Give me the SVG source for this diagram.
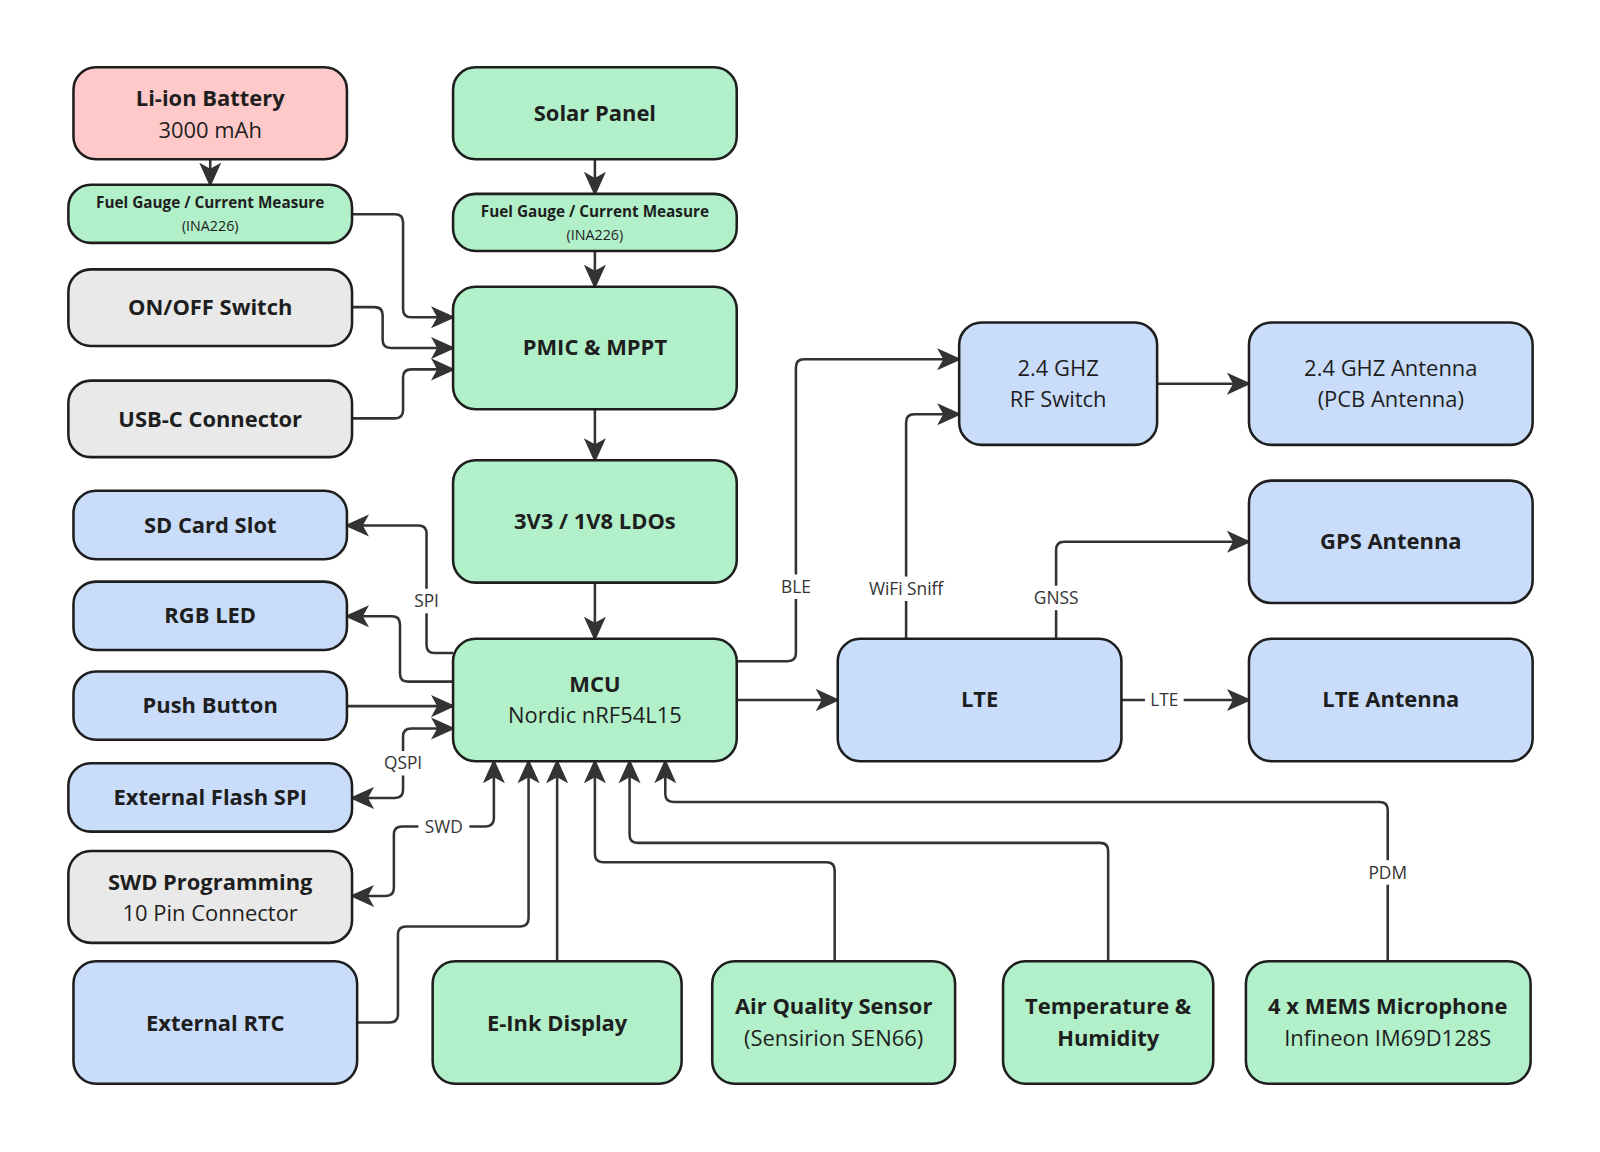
<svg xmlns="http://www.w3.org/2000/svg" width="1600" height="1152" viewBox="0 0 1600 1152">
<defs>
<marker id="ah" markerUnits="userSpaceOnUse" markerWidth="24" markerHeight="24" viewBox="0 0 20 20" refX="18" refY="10" orient="auto-start-reverse"><path d="M0,1 L20,10 L0,19 L5,10 Z" fill="#333"/></marker>
<style>
.n{stroke:#1e1e1e;stroke-width:2.5}
.r{fill:#ffc9c9}.g{fill:#b1f0c9}.y{fill:#e9e9e9}.b{fill:#c9ddfb}
text{font-family:"Open Sans","Noto Sans","Liberation Sans",sans-serif;fill:#1e1e1e;text-anchor:middle}
.t{font-size:21.5px;font-weight:700}
.s{font-size:21.5px}
.st{font-size:15px;font-weight:700}
.ss{font-size:14px}
.c path{fill:none;stroke:#333;stroke-width:2.5;stroke-linejoin:round}
.l{font-size:17px;fill:#333}
.lb{fill:#fff}
</style>
</defs>
<rect width="1600" height="1152" fill="#fff"/>
<g transform="scale(1.0204)">
<g class="c">
<path d="M206,156 V181" marker-end="url(#ah)"/>
<path d="M583,156 V190" marker-end="url(#ah)"/>
<path d="M583,246 V281" marker-end="url(#ah)"/>
<path d="M345,210 H387 Q395,210 395,218 V303 Q395,311 403,311 H444" marker-end="url(#ah)"/>
<path d="M345,301 H367 Q375,301 375,309 V333 Q375,341 383,341 H444" marker-end="url(#ah)"/>
<path d="M345,410 H387 Q395,410 395,402 V370 Q395,362 403,362 H444" marker-end="url(#ah)"/>
<path d="M583,401 V451" marker-end="url(#ah)"/>
<path d="M583,571 V626" marker-end="url(#ah)"/>
<path d="M444,640 H426 Q418,640 418,632 V523 Q418,515 410,515 H340" marker-end="url(#ah)"/>
<path d="M444,668 H400 Q392,668 392,660 V612 Q392,604 384,604 H340" marker-end="url(#ah)"/>
<path d="M340,692 H444" marker-end="url(#ah)"/>
<path d="M444,714 H403 Q395,714 395,722 V774 Q395,782 387,782 H345" marker-start="url(#ah)" marker-end="url(#ah)"/>
<path d="M484,746 V802 Q484,810 476,810 H394 Q386,810 386,818 V870 Q386,878 378,878 H345" marker-start="url(#ah)" marker-end="url(#ah)"/>
<path d="M350,1002 H382 Q390,1002 390,994 V916 Q390,908 398,908 H510 Q518,908 518,900 V746" marker-end="url(#ah)"/>
<path d="M546,942 V746" marker-end="url(#ah)"/>
<path d="M818,942 V853 Q818,845 810,845 H591 Q583,845 583,837 V746" marker-end="url(#ah)"/>
<path d="M1086,942 V834 Q1086,826 1078,826 H625 Q617,826 617,818 V746" marker-end="url(#ah)"/>
<path d="M1360,942 V794 Q1360,786 1352,786 H660 Q652,786 652,778 V746" marker-end="url(#ah)"/>
<path d="M722,648 H772 Q780,648 780,640 V360 Q780,352 788,352 H940" marker-end="url(#ah)"/>
<path d="M722,686 H821" marker-end="url(#ah)"/>
<path d="M888,626 V414 Q888,406 896,406 H940" marker-end="url(#ah)"/>
<path d="M1035,626 V539 Q1035,531 1043,531 H1224" marker-end="url(#ah)"/>
<path d="M1099,686 H1224" marker-end="url(#ah)"/>
<path d="M1134,376 H1224" marker-end="url(#ah)"/>
<rect class="lb" x="402" y="577" width="32" height="24"/><text class="l" x="418" y="595">SPI</text>
<rect class="lb" x="372" y="736" width="46" height="24"/><text class="l" x="395" y="754">QSPI</text>
<rect class="lb" x="410" y="798" width="50" height="24"/><text class="l" x="435" y="816">SWD</text>
<rect class="lb" x="1340" y="843" width="40" height="24"/><text class="l" x="1360" y="861">PDM</text>
<rect class="lb" x="762" y="563" width="36" height="24"/><text class="l" x="780" y="581">BLE</text>
<rect class="lb" x="845" y="565" width="86" height="24"/><text class="l" x="888" y="583">WiFi Sniff</text>
<rect class="lb" x="1010" y="574" width="50" height="24"/><text class="l" x="1035" y="592">GNSS</text>
<rect class="lb" x="1122" y="674" width="38" height="24"/><text class="l" x="1141" y="692">LTE</text>
</g>
<g id="battery"><rect class="n r" x="72" y="66" width="268" height="90" rx="22"/><text class="t" x="206" y="104">Li-ion Battery</text><text class="s" x="206" y="135">3000 mAh</text></g>
<g id="fg1"><rect class="n g" x="67" y="181" width="278" height="57" rx="22"/><text class="st" x="206" y="204">Fuel Gauge / Current Measure</text><text class="ss" x="206" y="226">(INA226)</text></g>
<g id="solar"><rect class="n g" x="444" y="66" width="278" height="90" rx="22"/><text class="t" x="583" y="119">Solar Panel</text></g>
<g id="fg2"><rect class="n g" x="444" y="190" width="278" height="56" rx="22"/><text class="st" x="583" y="213">Fuel Gauge / Current Measure</text><text class="ss" x="583" y="235">(INA226)</text></g>
<g id="onoff"><rect class="n y" x="67" y="264" width="278" height="75" rx="22"/><text class="t" x="206" y="309">ON/OFF Switch</text></g>
<g id="pmic"><rect class="n g" x="444" y="281" width="278" height="120" rx="22"/><text class="t" x="583" y="348">PMIC &amp; MPPT</text></g>
<g id="usbc"><rect class="n y" x="67" y="373" width="278" height="75" rx="22"/><text class="t" x="206" y="418">USB-C Connector</text></g>
<g id="ldo"><rect class="n g" x="444" y="451" width="278" height="120" rx="22"/><text class="t" x="583" y="518">3V3 / 1V8 LDOs</text></g>
<g id="sd"><rect class="n b" x="72" y="481" width="268" height="67" rx="22"/><text class="t" x="206" y="522">SD Card Slot</text></g>
<g id="rgb"><rect class="n b" x="72" y="570" width="268" height="67" rx="22"/><text class="t" x="206" y="611">RGB LED</text></g>
<g id="push"><rect class="n b" x="72" y="658" width="268" height="67" rx="22"/><text class="t" x="206" y="699">Push Button</text></g>
<g id="flash"><rect class="n b" x="67" y="748" width="278" height="67" rx="22"/><text class="t" x="206" y="789">External Flash SPI</text></g>
<g id="swd"><rect class="n y" x="67" y="834" width="278" height="90" rx="22"/><text class="t" x="206" y="872">SWD Programming</text><text class="s" x="206" y="903">10 Pin Connector</text></g>
<g id="rtc"><rect class="n b" x="72" y="942" width="278" height="120" rx="22"/><text class="t" x="211" y="1010">External RTC</text></g>
<g id="mcu"><rect class="n g" x="444" y="626" width="278" height="120" rx="22"/><text class="t" x="583" y="678">MCU</text><text class="s" x="583" y="709">Nordic nRF54L15</text></g>
<g id="eink"><rect class="n g" x="424" y="942" width="244" height="120" rx="22"/><text class="t" x="546" y="1010">E-Ink Display</text></g>
<g id="air"><rect class="n g" x="698" y="942" width="238" height="120" rx="22"/><text class="t" x="817" y="994">Air Quality Sensor</text><text class="s" x="817" y="1025">(Sensirion SEN66)</text></g>
<g id="temp"><rect class="n g" x="983" y="942" width="206" height="120" rx="22"/><text class="t" x="1086" y="994">Temperature &amp;</text><text class="t" x="1086" y="1025">Humidity</text></g>
<g id="mems"><rect class="n g" x="1221" y="942" width="279" height="120" rx="22"/><text class="t" x="1360" y="994">4 x MEMS Microphone</text><text class="s" x="1360" y="1025">Infineon IM69D128S</text></g>
<g id="rfsw"><rect class="n b" x="940" y="316" width="194" height="120" rx="22"/><text class="s" x="1037" y="368">2.4 GHZ</text><text class="s" x="1037" y="399">RF Switch</text></g>
<g id="ant24"><rect class="n b" x="1224" y="316" width="278" height="120" rx="22"/><text class="s" x="1363" y="368">2.4 GHZ Antenna</text><text class="s" x="1363" y="399">(PCB Antenna)</text></g>
<g id="gps"><rect class="n b" x="1224" y="471" width="278" height="120" rx="22"/><text class="t" x="1363" y="538">GPS Antenna</text></g>
<g id="lte"><rect class="n b" x="821" y="626" width="278" height="120" rx="22"/><text class="t" x="960" y="693">LTE</text></g>
<g id="lteant"><rect class="n b" x="1224" y="626" width="278" height="120" rx="22"/><text class="t" x="1363" y="693">LTE Antenna</text></g>
</g>
</svg>
